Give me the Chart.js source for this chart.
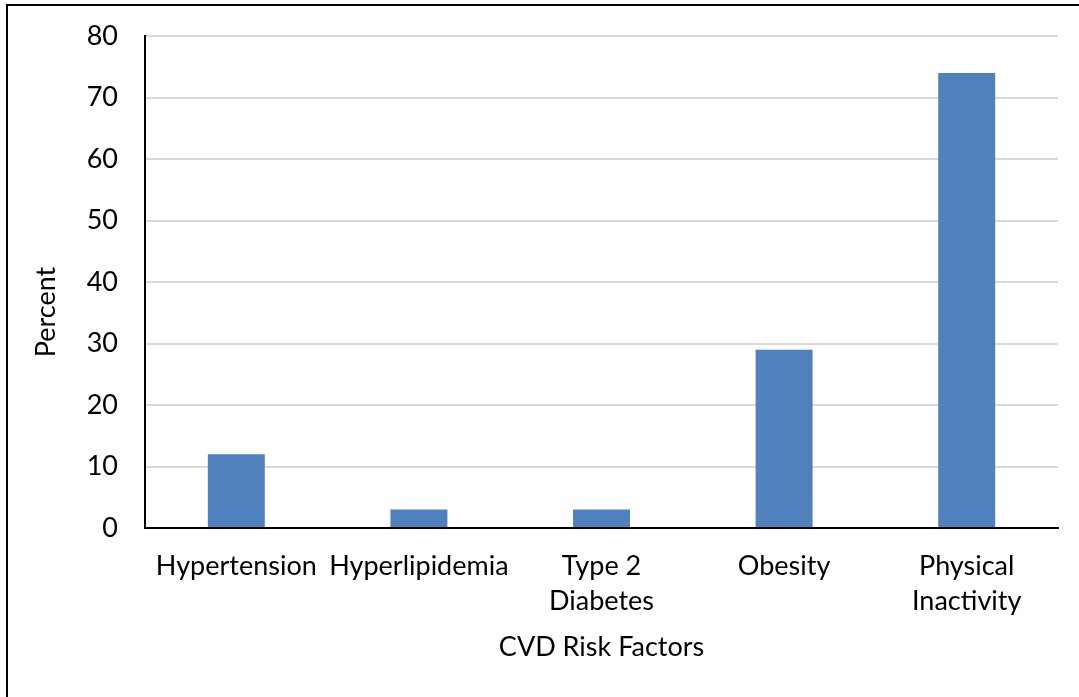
<!DOCTYPE html>
<html>
<head>
  <meta charset="utf-8" />
  <title>CVD Risk Factors</title>
  <style>
    html, body { margin: 0; padding: 0; background: #fff; }
    #wrap { position: relative; width: 1079px; height: 697px; }
    #frame { position: absolute; left: 6px; top: 4px; right: 0; bottom: 0;
             border-left: 2px solid #000; border-top: 2px solid #000; }
    #myChart { position: absolute; left: 0; top: 0; }
  </style>
</head>
<body>
<div id="wrap">
  <div id="frame"></div>
  <canvas id="myChart" width="1079" height="697"></canvas>
</div>

<script src="https://cdn.jsdelivr.net/npm/chart.js"></script>
<script>
  const categories = [
    "Hypertension",
    "Hyperlipidemia",
    ["Type 2", "Diabetes"],
    "Obesity",
    ["Physical", "Inactivity"]
  ];
  const percents = [12, 3, 3, 29, 74];
  const yTitle = "Percent";
  const xTitle = "CVD Risk Factors";

  const fontFamily = "Lato, 'Open Sans', sans-serif";
  const fontSize = 27;

  // draws the y title a bit lower than centre, like the Excel original
  const yTitlePlugin = {
    id: 'yTitlePlugin',
    afterDraw(chart) {
      const ctx = chart.ctx;
      const area = chart.chartArea;
      ctx.save();
      ctx.translate(46, (area.top + area.bottom) / 2 + 30);
      ctx.rotate(-Math.PI / 2);
      ctx.font = fontSize + "px " + fontFamily;
      ctx.fillStyle = "#000";
      ctx.textAlign = "center";
      ctx.textBaseline = "middle";
      ctx.fillText(yTitle, 0, 0);
      ctx.restore();
    }
  };

  new Chart(document.getElementById('myChart'), {
    type: 'bar',
    data: {
      labels: categories,
      datasets: [{
        label: yTitle,
        data: percents,
        backgroundColor: '#4f81bd',
        borderWidth: 0,
        categoryPercentage: 1,
        barPercentage: 0.312
      }]
    },
    options: {
      responsive: false,
      animation: false,
      layout: { padding: { left: 0, top: 36, right: 21, bottom: 0 } },
      plugins: {
        legend: { display: false },
        tooltip: { enabled: false }
      },
      scales: {
        x: {
          grid: { display: false, drawTicks: false },
          border: { color: '#000', width: 2 },
          ticks: {
            color: '#000',
            font: { family: fontFamily, size: fontSize, lineHeight: 1.3 },
            padding: 21,
            maxRotation: 0,
            autoSkip: false
          },
          title: {
            display: true,
            text: xTitle,
            color: '#000',
            font: { family: fontFamily, size: fontSize },
            padding: { top: 0, bottom: 34 }
          },
          afterFit(scale) { scale.height = 169; }
        },
        y: {
          min: 0,
          max: 80,
          ticks: {
            stepSize: 10,
            color: '#000',
            font: { family: fontFamily, size: fontSize, lineHeight: 0.5 },
            padding: 27
          },
          grid: { color: '#d9d9d9', lineWidth: 2, drawTicks: false },
          border: { color: '#000', width: 2 },
          afterFit(scale) { scale.width = 145; }
        }
      }
    },
    plugins: [yTitlePlugin]
  });
</script>
</body>
</html>
